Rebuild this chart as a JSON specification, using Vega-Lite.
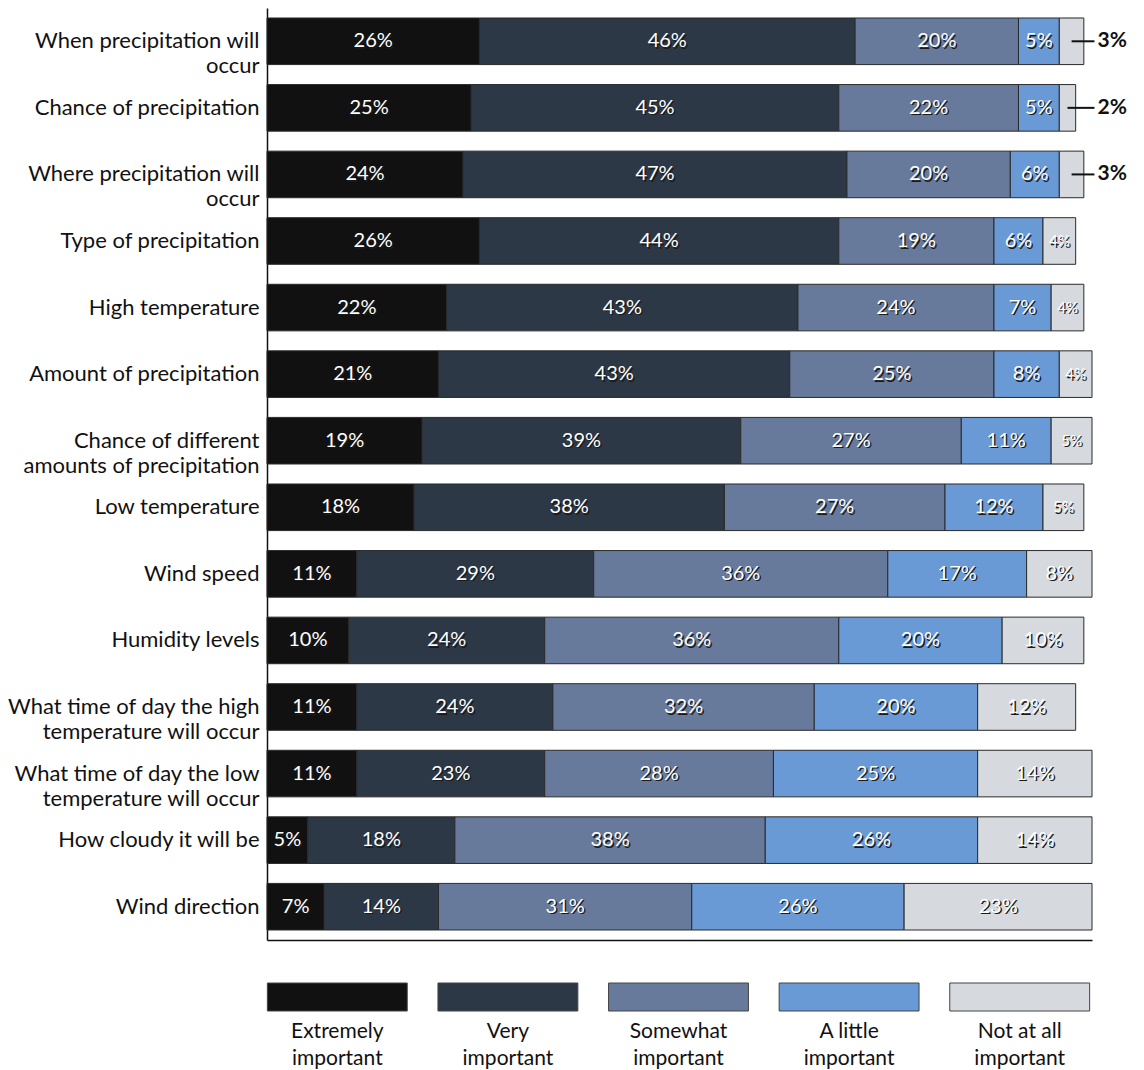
{
  "$schema": "https://vega.github.io/schema/vega-lite/v6.json",
  "padding": {"top": 8, "left": 6, "right": 0, "bottom": 0},
  "background": "white",
  "spacing": 42,
  "config": {
    "view": {"stroke": null},
    "font": "Lato",
    "text": {"font": "Lato"}
  },
  "datasets": {
    "survey": [
      {"item": "When precipitation will\noccur", "level": "Extremely important", "pct": 26},
      {"item": "When precipitation will\noccur", "level": "Very important", "pct": 46},
      {"item": "When precipitation will\noccur", "level": "Somewhat important", "pct": 20},
      {"item": "When precipitation will\noccur", "level": "A little important", "pct": 5},
      {"item": "When precipitation will\noccur", "level": "Not at all important", "pct": 3},
      {"item": "Chance of precipitation", "level": "Extremely important", "pct": 25},
      {"item": "Chance of precipitation", "level": "Very important", "pct": 45},
      {"item": "Chance of precipitation", "level": "Somewhat important", "pct": 22},
      {"item": "Chance of precipitation", "level": "A little important", "pct": 5},
      {"item": "Chance of precipitation", "level": "Not at all important", "pct": 2},
      {"item": "Where precipitation will\noccur", "level": "Extremely important", "pct": 24},
      {"item": "Where precipitation will\noccur", "level": "Very important", "pct": 47},
      {"item": "Where precipitation will\noccur", "level": "Somewhat important", "pct": 20},
      {"item": "Where precipitation will\noccur", "level": "A little important", "pct": 6},
      {"item": "Where precipitation will\noccur", "level": "Not at all important", "pct": 3},
      {"item": "Type of precipitation", "level": "Extremely important", "pct": 26},
      {"item": "Type of precipitation", "level": "Very important", "pct": 44},
      {"item": "Type of precipitation", "level": "Somewhat important", "pct": 19},
      {"item": "Type of precipitation", "level": "A little important", "pct": 6},
      {"item": "Type of precipitation", "level": "Not at all important", "pct": 4},
      {"item": "High temperature", "level": "Extremely important", "pct": 22},
      {"item": "High temperature", "level": "Very important", "pct": 43},
      {"item": "High temperature", "level": "Somewhat important", "pct": 24},
      {"item": "High temperature", "level": "A little important", "pct": 7},
      {"item": "High temperature", "level": "Not at all important", "pct": 4},
      {"item": "Amount of precipitation", "level": "Extremely important", "pct": 21},
      {"item": "Amount of precipitation", "level": "Very important", "pct": 43},
      {"item": "Amount of precipitation", "level": "Somewhat important", "pct": 25},
      {"item": "Amount of precipitation", "level": "A little important", "pct": 8},
      {"item": "Amount of precipitation", "level": "Not at all important", "pct": 4},
      {"item": "Chance of different\namounts of precipitation", "level": "Extremely important", "pct": 19},
      {"item": "Chance of different\namounts of precipitation", "level": "Very important", "pct": 39},
      {"item": "Chance of different\namounts of precipitation", "level": "Somewhat important", "pct": 27},
      {"item": "Chance of different\namounts of precipitation", "level": "A little important", "pct": 11},
      {"item": "Chance of different\namounts of precipitation", "level": "Not at all important", "pct": 5},
      {"item": "Low temperature", "level": "Extremely important", "pct": 18},
      {"item": "Low temperature", "level": "Very important", "pct": 38},
      {"item": "Low temperature", "level": "Somewhat important", "pct": 27},
      {"item": "Low temperature", "level": "A little important", "pct": 12},
      {"item": "Low temperature", "level": "Not at all important", "pct": 5},
      {"item": "Wind speed", "level": "Extremely important", "pct": 11},
      {"item": "Wind speed", "level": "Very important", "pct": 29},
      {"item": "Wind speed", "level": "Somewhat important", "pct": 36},
      {"item": "Wind speed", "level": "A little important", "pct": 17},
      {"item": "Wind speed", "level": "Not at all important", "pct": 8},
      {"item": "Humidity levels", "level": "Extremely important", "pct": 10},
      {"item": "Humidity levels", "level": "Very important", "pct": 24},
      {"item": "Humidity levels", "level": "Somewhat important", "pct": 36},
      {"item": "Humidity levels", "level": "A little important", "pct": 20},
      {"item": "Humidity levels", "level": "Not at all important", "pct": 10},
      {"item": "What time of day the high\ntemperature will occur", "level": "Extremely important", "pct": 11},
      {"item": "What time of day the high\ntemperature will occur", "level": "Very important", "pct": 24},
      {"item": "What time of day the high\ntemperature will occur", "level": "Somewhat important", "pct": 32},
      {"item": "What time of day the high\ntemperature will occur", "level": "A little important", "pct": 20},
      {"item": "What time of day the high\ntemperature will occur", "level": "Not at all important", "pct": 12},
      {"item": "What time of day the low\ntemperature will occur", "level": "Extremely important", "pct": 11},
      {"item": "What time of day the low\ntemperature will occur", "level": "Very important", "pct": 23},
      {"item": "What time of day the low\ntemperature will occur", "level": "Somewhat important", "pct": 28},
      {"item": "What time of day the low\ntemperature will occur", "level": "A little important", "pct": 25},
      {"item": "What time of day the low\ntemperature will occur", "level": "Not at all important", "pct": 14},
      {"item": "How cloudy it will be", "level": "Extremely important", "pct": 5},
      {"item": "How cloudy it will be", "level": "Very important", "pct": 18},
      {"item": "How cloudy it will be", "level": "Somewhat important", "pct": 38},
      {"item": "How cloudy it will be", "level": "A little important", "pct": 26},
      {"item": "How cloudy it will be", "level": "Not at all important", "pct": 14},
      {"item": "Wind direction", "level": "Extremely important", "pct": 7},
      {"item": "Wind direction", "level": "Very important", "pct": 14},
      {"item": "Wind direction", "level": "Somewhat important", "pct": 31},
      {"item": "Wind direction", "level": "A little important", "pct": 26},
      {"item": "Wind direction", "level": "Not at all important", "pct": 23}
    ],
    "levels": [
      {"level": "Extremely important"},
      {"level": "Very important"},
      {"level": "Somewhat important"},
      {"level": "A little important"},
      {"level": "Not at all important"}
    ]
  },
  "vconcat": [
    {
      "width": 825,
      "height": 932,
      "data": {"name": "survey"},
      "transform": [
        {"calculate": "indexof(['Extremely important','Very important','Somewhat important','A little important','Not at all important'], datum.level)", "as": "k"},
        {"stack": "pct", "groupby": ["item"], "sort": [{"field": "k", "order": "ascending"}], "as": ["x0", "x1"]},
        {"calculate": "(datum.x0 + datum.x1) / 2", "as": "mid"},
        {"calculate": "datum.pct + '%'", "as": "lab"}
      ],
      "encoding": {
        "y": {
          "field": "item",
          "type": "nominal",
          "sort": [
            "When precipitation will\noccur",
            "Chance of precipitation",
            "Where precipitation will\noccur",
            "Type of precipitation",
            "High temperature",
            "Amount of precipitation",
            "Chance of different\namounts of precipitation",
            "Low temperature",
            "Wind speed",
            "Humidity levels",
            "What time of day the high\ntemperature will occur",
            "What time of day the low\ntemperature will occur",
            "How cloudy it will be",
            "Wind direction"
          ],
          "scale": {"paddingInner": 0.3, "paddingOuter": 0.15},
          "axis": {
            "title": null,
            "ticks": false,
            "domainColor": "#111111",
            "domainWidth": 1.5,
            "labelFontSize": 22,
            "labelColor": "#111111",
            "labelFont": "Lato",
            "labelPadding": 8,
            "labelLineHeight": 25,
            "labelLimit": 400,
            "labelExpr": "split(datum.value, '\\n')"
          }
        }
      },
      "layer": [
        {
          "mark": {"type": "bar", "stroke": "#2a2a2a", "strokeWidth": 1},
          "encoding": {
            "x": {
              "field": "x0",
              "type": "quantitative",
              "scale": {"domain": [0, 101], "nice": false},
              "axis": {"title": null, "labels": false, "ticks": false, "grid": false, "domain": true, "domainColor": "#111111", "domainWidth": 1.5}
            },
            "x2": {"field": "x1"},
            "color": {
              "field": "level",
              "type": "nominal",
              "scale": {
                "domain": ["Extremely important", "Very important", "Somewhat important", "A little important", "Not at all important"],
                "range": ["#111111", "#2c3846", "#687a9c", "#6a9ad6", "#d6d9de"]
              },
              "legend": null
            }
          }
        },
        {
          "transform": [{"filter": "!(datum.level == 'Not at all important' && datum.pct <= 3)"}],
          "mark": {"type": "text", "color": "#1a1a1a", "dx": 1.5, "dy": 1.5, "font": "Lato"},
          "encoding": {
            "x": {"field": "mid", "type": "quantitative"},
            "text": {"field": "lab", "type": "nominal"},
            "size": {"condition": {"test": "datum.level == 'Not at all important' && datum.pct <= 5", "value": 15}, "value": 20}
          }
        },
        {
          "transform": [{"filter": "!(datum.level == 'Not at all important' && datum.pct <= 3)"}],
          "mark": {"type": "text", "color": "white", "font": "Lato"},
          "encoding": {
            "x": {"field": "mid", "type": "quantitative"},
            "text": {"field": "lab", "type": "nominal"},
            "size": {"condition": {"test": "datum.level == 'Not at all important' && datum.pct <= 5", "value": 15}, "value": 20}
          }
        },
        {
          "transform": [{"filter": "datum.level == 'Not at all important' && datum.pct <= 3"}],
          "mark": {"type": "rule", "color": "#111111", "strokeWidth": 2},
          "encoding": {
            "x": {"field": "mid", "type": "quantitative"},
            "x2": {"datum": 101.3}
          }
        },
        {
          "transform": [{"filter": "datum.level == 'Not at all important' && datum.pct <= 3"}],
          "mark": {"type": "text", "color": "#111111", "align": "left", "fontWeight": "bold", "fontSize": 21, "dx": 3, "font": "Lato"},
          "encoding": {
            "x": {"datum": 101.3},
            "text": {"field": "lab", "type": "nominal"}
          }
        }
      ]
    },
    {
      "width": 838,
      "height": 28,
      "data": {"name": "levels"},
      "layer": [
        {
          "mark": {"type": "bar", "stroke": "#444444", "strokeWidth": 1, "width": {"band": 0.82}},
          "encoding": {
            "x": {
              "field": "level",
              "type": "nominal",
              "sort": null,
              "scale": {"range": [-15, 838], "paddingInner": 0, "paddingOuter": 0},
              "axis": null
            },
            "color": {
              "field": "level",
              "type": "nominal",
              "scale": {
                "domain": ["Extremely important", "Very important", "Somewhat important", "A little important", "Not at all important"],
                "range": ["#111111", "#2c3846", "#687a9c", "#6a9ad6", "#d6d9de"]
              },
              "legend": null
            }
          }
        },
        {
          "transform": [{"calculate": "split(replace(datum.level, ' important', '|important'), '|')", "as": "lab"}],
          "mark": {"type": "text", "baseline": "top", "dy": 24, "fontSize": 21, "lineHeight": 27, "color": "#111111", "font": "Lato"},
          "encoding": {
            "x": {"field": "level", "type": "nominal", "sort": null},
            "text": {"field": "lab"}
          }
        }
      ]
    }
  ]
}
